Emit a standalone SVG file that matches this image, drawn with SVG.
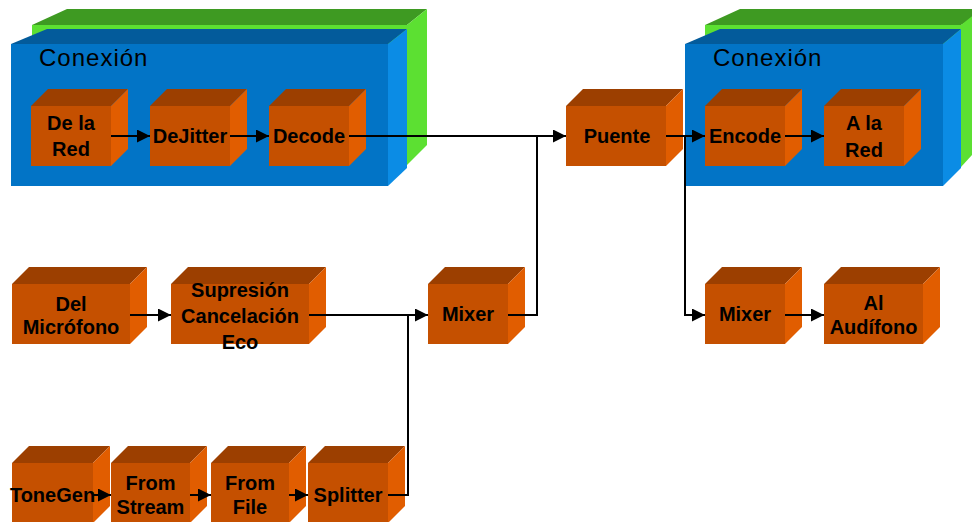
<svg xmlns="http://www.w3.org/2000/svg" width="972" height="522" viewBox="0 0 972 522">
  <style>
    .g-top { fill: #3e9a22; }
    .g-side { fill: #5ce032; }
    .b-front { fill: #0274c6; }
    .b-top { fill: #035b9b; }
    .b-side { fill: #0b8ce5; }
    .o-front { fill: #c55000; }
    .o-top { fill: #9c3f00; }
    .o-side { fill: #e15d00; }
    .title { font-family: "Liberation Sans", Arial, sans-serif; font-size: 24px; letter-spacing: 1px; fill: #000; }
    .lbl { font-family: "Liberation Sans", Arial, sans-serif; font-size: 20px; font-weight: bold; fill: #000; text-anchor: middle; }
    .wire { fill: none; stroke: #000; stroke-width: 2; }
  </style>
  <defs>
    <marker id="arrow" markerUnits="userSpaceOnUse" markerWidth="13" markerHeight="13" refX="13" refY="6.5" orient="auto">
      <path d="M0,0 L13,6.5 L0,13 Z" fill="#000"/>
    </marker>
  </defs>
  <rect width="972" height="522" fill="#fff"/>

  <!-- left connection container -->
  <g id="conexion-izq">
    <rect class="g-side" x="32" y="25" width="375" height="142"/>
    <polygon class="g-top" points="32,25 67,9 427,9 407,25"/>
    <polygon class="g-side" points="407,25 427,9 427,145 405,167"/>
    <rect class="b-front" x="11" y="44" width="377" height="142"/>
    <polygon class="b-top" points="11,44 47,29 407,29 388,44"/>
    <polygon class="b-side" points="388,44 407,29 407,168 388,186"/>
    <text class="title" x="39" y="66">Conexión</text>
  </g>

  <!-- right connection container -->
  <g id="conexion-der">
    <rect class="g-side" x="705" y="25" width="256" height="142"/>
    <polygon class="g-top" points="705,25 740,9 990,9 961,25"/>
    <polygon class="g-side" points="961,25 981,9 981,145 961,167"/>
    <rect class="b-front" x="685" y="44" width="258" height="142"/>
    <polygon class="b-top" points="685,44 720,29 961,29 943,44"/>
    <polygon class="b-side" points="943,44 961,29 961,168 943,186"/>
    <text class="title" x="713" y="66">Conexión</text>
  </g>

  <!-- top row -->
  <g id="de-la-red">
    <rect class="o-front" x="31" y="106" width="80" height="60"/>
    <polygon class="o-top" points="31,106 48,89 128,89 111,106"/>
    <polygon class="o-side" points="111,106 128,89 128,149 111,166"/>
    <text class="lbl" x="71" y="130">De la</text>
    <text class="lbl" x="71" y="156">Red</text>
  </g>
  <g id="dejitter">
    <rect class="o-front" x="150" y="106" width="80" height="60"/>
    <polygon class="o-top" points="150,106 167,89 247,89 230,106"/>
    <polygon class="o-side" points="230,106 247,89 247,149 230,166"/>
    <text class="lbl" x="190" y="143">DeJitter</text>
  </g>
  <g id="decode">
    <rect class="o-front" x="269" y="106" width="80" height="60"/>
    <polygon class="o-top" points="269,106 286,89 366,89 349,106"/>
    <polygon class="o-side" points="349,106 366,89 366,149 349,166"/>
    <text class="lbl" x="309" y="143">Decode</text>
  </g>
  <g id="puente">
    <rect class="o-front" x="566" y="106" width="100" height="60"/>
    <polygon class="o-top" points="566,106 583,89 683,89 666,106"/>
    <polygon class="o-side" points="666,106 683,89 683,149 666,166"/>
    <text class="lbl" x="617" y="143">Puente</text>
  </g>
  <g id="encode">
    <rect class="o-front" x="705" y="106" width="80" height="60"/>
    <polygon class="o-top" points="705,106 722,89 802,89 785,106"/>
    <polygon class="o-side" points="785,106 802,89 802,149 785,166"/>
    <text class="lbl" x="745" y="143">Encode</text>
  </g>
  <g id="a-la-red">
    <rect class="o-front" x="824" y="106" width="80" height="60"/>
    <polygon class="o-top" points="824,106 841,89 921,89 904,106"/>
    <polygon class="o-side" points="904,106 921,89 921,149 904,166"/>
    <text class="lbl" x="864" y="130">A la</text>
    <text class="lbl" x="864" y="157">Red</text>
  </g>

  <!-- middle row -->
  <g id="del-microfono">
    <rect class="o-front" x="12" y="284" width="118" height="60"/>
    <polygon class="o-top" points="12,284 29,267 147,267 130,284"/>
    <polygon class="o-side" points="130,284 147,267 147,327 130,344"/>
    <text class="lbl" x="71" y="311">Del</text>
    <text class="lbl" x="71" y="334">Micrófono</text>
  </g>
  <g id="supresion">
    <rect class="o-front" x="171" y="284" width="138" height="60"/>
    <polygon class="o-top" points="171,284 188,267 326,267 309,284"/>
    <polygon class="o-side" points="309,284 326,267 326,327 309,344"/>
    <text class="lbl" x="240" y="297">Supresión</text>
    <text class="lbl" x="240" y="323">Cancelación</text>
    <text class="lbl" x="240" y="349">Eco</text>
  </g>
  <g id="mixer-entrada">
    <rect class="o-front" x="428" y="284" width="80" height="60"/>
    <polygon class="o-top" points="428,284 445,267 525,267 508,284"/>
    <polygon class="o-side" points="508,284 525,267 525,327 508,344"/>
    <text class="lbl" x="468" y="321">Mixer</text>
  </g>
  <g id="mixer-salida">
    <rect class="o-front" x="705" y="284" width="80" height="60"/>
    <polygon class="o-top" points="705,284 722,267 802,267 785,284"/>
    <polygon class="o-side" points="785,284 802,267 802,327 785,344"/>
    <text class="lbl" x="745" y="321">Mixer</text>
  </g>
  <g id="al-audifono">
    <rect class="o-front" x="824" y="284" width="99" height="60"/>
    <polygon class="o-top" points="824,284 841,267 940,267 923,284"/>
    <polygon class="o-side" points="923,284 940,267 940,327 923,344"/>
    <text class="lbl" x="873.5" y="310">Al</text>
    <text class="lbl" x="873.5" y="334">Audífono</text>
  </g>

  <!-- bottom row -->
  <g id="tonegen">
    <rect class="o-front" x="12" y="463" width="81" height="60"/>
    <polygon class="o-top" points="12,463 29,446 110,446 93,463"/>
    <polygon class="o-side" points="93,463 110,446 110,506 93,523"/>
    <text class="lbl" x="52.5" y="502">ToneGen</text>
  </g>
  <g id="from-stream">
    <rect class="o-front" x="111" y="463" width="79" height="60"/>
    <polygon class="o-top" points="111,463 128,446 207,446 190,463"/>
    <polygon class="o-side" points="190,463 207,446 207,506 190,523"/>
    <text class="lbl" x="150.5" y="490">From</text>
    <text class="lbl" x="150.5" y="514">Stream</text>
  </g>
  <g id="from-file">
    <rect class="o-front" x="211" y="463" width="78" height="60"/>
    <polygon class="o-top" points="211,463 228,446 306,446 289,463"/>
    <polygon class="o-side" points="289,463 306,446 306,506 289,523"/>
    <text class="lbl" x="250" y="490">From</text>
    <text class="lbl" x="250" y="514">File</text>
  </g>
  <g id="splitter">
    <rect class="o-front" x="308" y="463" width="80" height="60"/>
    <polygon class="o-top" points="308,463 325,446 405,446 388,463"/>
    <polygon class="o-side" points="388,463 405,446 405,506 388,523"/>
    <text class="lbl" x="348" y="502">Splitter</text>
  </g>

  <!-- connectors -->
  <g id="connectors">
    <path class="wire" d="M111,136 H150" marker-end="url(#arrow)"/>
    <path class="wire" d="M230,136 H269" marker-end="url(#arrow)"/>
    <path class="wire" d="M349,136 H566" marker-end="url(#arrow)"/>
    <path class="wire" d="M508,315 H537 V136"/>
    <path class="wire" d="M666,136 H705" marker-end="url(#arrow)"/>
    <path class="wire" d="M685,136 V315 H705" marker-end="url(#arrow)"/>
    <path class="wire" d="M785,136 H824" marker-end="url(#arrow)"/>
    <path class="wire" d="M785,315 H824" marker-end="url(#arrow)"/>
    <path class="wire" d="M130,315 H171" marker-end="url(#arrow)"/>
    <path class="wire" d="M309,315 H428" marker-end="url(#arrow)"/>
    <path class="wire" d="M388,495 H408 V315"/>
    <path class="wire" d="M93,495 H111" marker-end="url(#arrow)"/>
    <path class="wire" d="M190,495 H211" marker-end="url(#arrow)"/>
    <path class="wire" d="M289,495 H308" marker-end="url(#arrow)"/>
  </g>
</svg>
